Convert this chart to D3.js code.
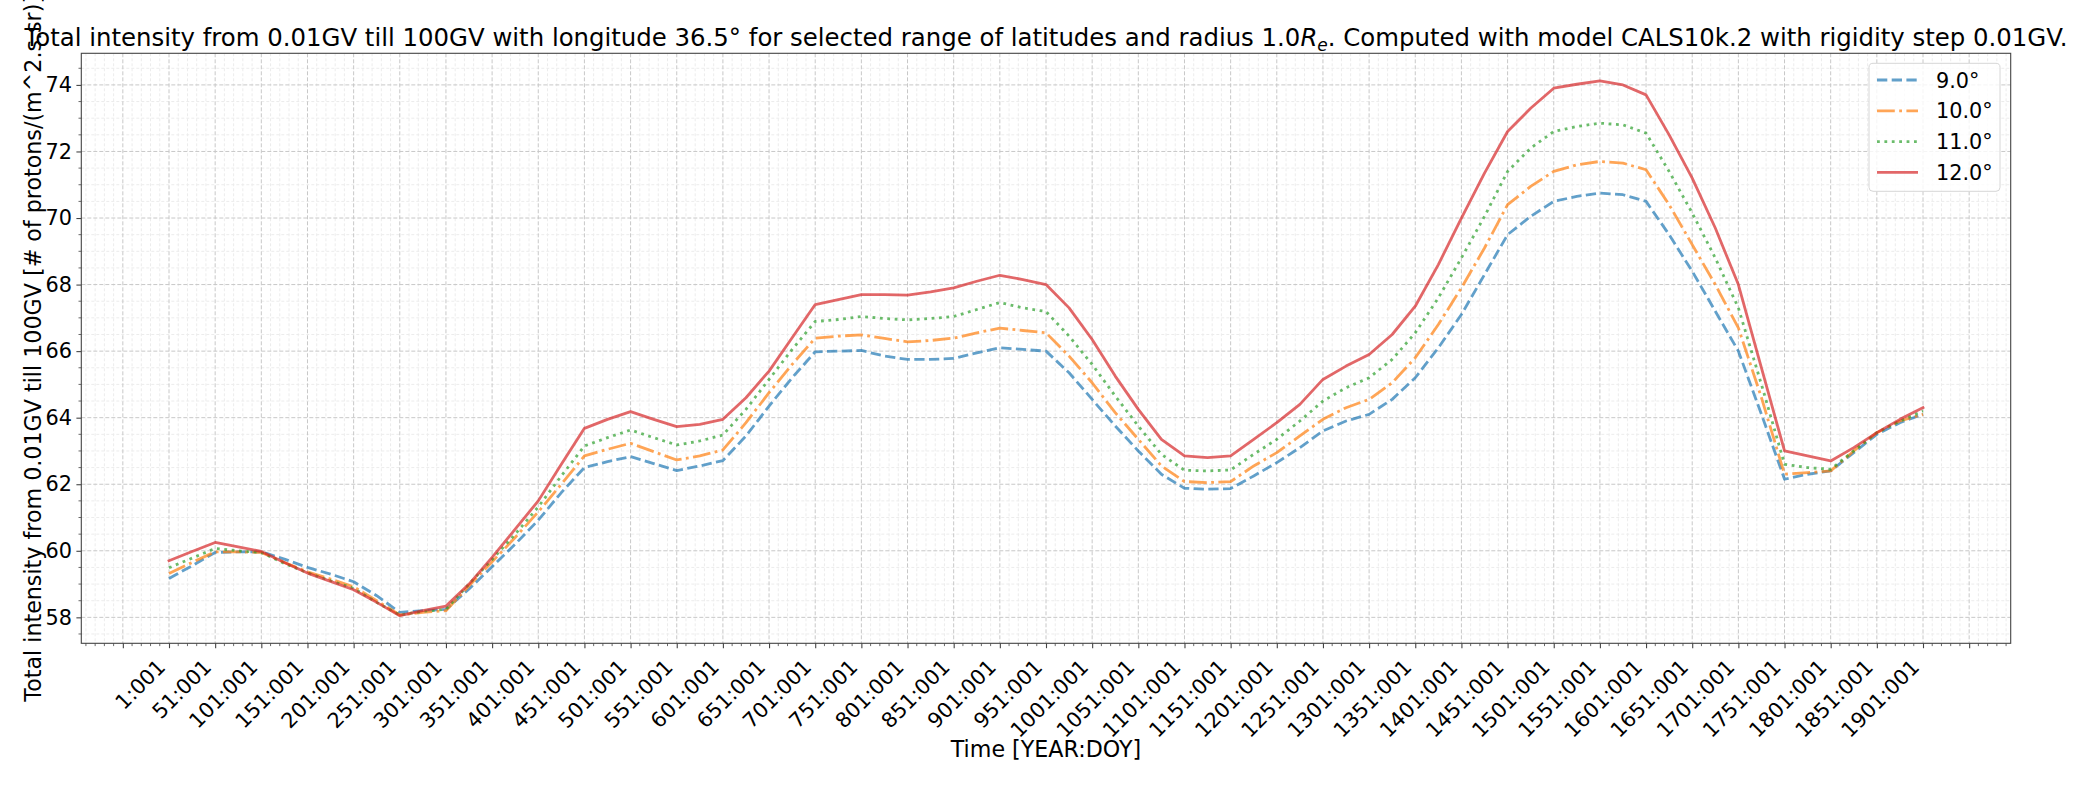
<!DOCTYPE html>
<html><head><meta charset="utf-8">
<script src="https://cdn.jsdelivr.net/npm/d3@7"></script>
<style>
html,body{margin:0;padding:0;background:#fff;}
svg{display:block;font-family:"DejaVu Sans",sans-serif;}
</style></head>
<body>
<svg id="chart" width="2089" height="785"></svg>
<script>
const years = [1,26,51,76,101,126,151,176,201,226,251,276,301,326,351,376,401,426,451,476,501,526,551,576,601,626,651,676,701,726,751,776,801,826,851,876,901,926,951,976,1001,1026,1051,1076,1101,1126,1151,1176,1201,1226,1251,1276,1301,1326,1351,1376,1401,1426,1451,1476,1501,1526,1551,1576,1601,1626,1651,1676,1701,1726,1751,1776,1801,1826,1851,1876,1901];

const lat9 = [59.17,59.55,59.95,59.97,59.97,59.75,59.50,59.30,59.07,58.65,58.15,58.20,58.24,58.85,59.52,60.20,60.92,61.75,62.50,62.68,62.83,62.62,62.41,62.55,62.71,63.45,64.35,65.20,65.98,66.00,66.02,65.85,65.75,65.75,65.78,65.95,66.10,66.05,66.00,65.35,64.55,63.75,63.00,62.30,61.88,61.85,61.87,62.25,62.65,63.10,63.60,63.90,64.10,64.55,65.20,66.10,67.10,68.30,69.50,70.05,70.50,70.65,70.75,70.70,70.50,69.50,68.40,67.20,66.00,64.10,62.15,62.30,62.40,62.95,63.50,63.85,64.10];

const lat10 = [59.32,59.65,59.97,59.97,59.95,59.65,59.37,59.15,58.92,58.50,58.07,58.15,58.20,58.95,59.67,60.40,61.17,62.00,62.85,63.05,63.23,62.98,62.73,62.85,63.03,63.85,64.75,65.60,66.39,66.45,66.49,66.38,66.28,66.32,66.39,66.55,66.69,66.62,66.55,65.85,65.05,64.15,63.35,62.55,62.08,62.05,62.08,62.55,62.95,63.45,63.95,64.30,64.55,65.05,65.80,66.80,67.90,69.10,70.40,70.95,71.40,71.60,71.70,71.65,71.45,70.40,69.20,68.00,66.70,64.60,62.30,62.35,62.40,63.00,63.55,63.90,64.10];

const lat11 = [59.49,59.78,60.07,60.00,59.95,59.62,59.34,59.10,58.87,58.45,58.07,58.18,58.24,59.00,59.74,60.50,61.32,62.25,63.15,63.40,63.63,63.40,63.18,63.30,63.48,64.25,65.15,66.05,66.89,66.95,67.04,66.98,66.94,66.98,67.04,67.25,67.46,67.30,67.19,66.45,65.60,64.65,63.75,62.90,62.42,62.40,62.43,62.90,63.35,63.90,64.50,64.90,65.20,65.75,66.55,67.60,68.80,70.05,71.40,72.10,72.60,72.75,72.85,72.80,72.55,71.40,70.15,68.80,67.30,65.00,62.60,62.50,62.45,63.00,63.55,63.90,64.20];

const lat12 = [59.70,59.98,60.25,60.12,59.98,59.65,59.33,59.08,58.83,58.45,58.05,58.20,58.34,59.00,59.80,60.65,61.50,62.60,63.68,63.95,64.18,63.95,63.73,63.80,63.95,64.60,65.40,66.40,67.40,67.55,67.70,67.70,67.68,67.78,67.90,68.10,68.28,68.15,68.00,67.30,66.35,65.25,64.25,63.35,62.85,62.80,62.85,63.35,63.85,64.40,65.15,65.55,65.90,66.50,67.35,68.60,70.00,71.35,72.60,73.30,73.90,74.02,74.12,74.00,73.70,72.50,71.20,69.70,68.00,65.50,63.00,62.85,62.70,63.10,63.55,63.95,64.30];

const seriesNames = ["9.0°","10.0°","11.0°","12.0°"];
const seriesColors = ["#1f77b4","#ff7f0e","#2ca02c","#d62728"];
const seriesDash = ["10.3,4.4","17.8,4.4,2.8,4.4","2.8,4.6",null];
const yTickValues = [58,60,62,64,66,68,70,72,74];
const xTickYears = d3.range(-49, 1952, 50);
const xTickLabel = v => (v >= 1 && v <= 1901) ? v + ":001" : "";

const titleText = "Total intensity from 0.01GV till 100GV with longitude 36.5° for selected range of latitudes and radius 1.0";
const titleTail = ". Computed with model CALS10k.2 with rigidity step 0.01GV.";
const yLabel = "Total intensity from 0.01GV till 100GV [# of protons/(m^2.s.sr)]";
const xLabel = "Time [YEAR:DOY]";

const L = 81.3, R = 2010.7, T = 53.3, B = 643.3;
const svg = d3.select("#chart");
const x = d3.scaleLinear().domain([-94, 1996]).range([L, R]);
const y = d3.scaleLinear().domain([57.22, 74.95]).range([B, T]);

// grids
const g = svg.append("g");
const xMinor = d3.range(-89, 1996, 10).filter(v => (v + 49) % 50 !== 0);
const yMinor = d3.range(57.5, 75, 0.5).filter(v => v % 2 !== 0);
g.selectAll(".xmin").data(xMinor).join("line")
  .attr("x1", d => x(d)).attr("x2", d => x(d)).attr("y1", T).attr("y2", B)
  .attr("stroke", "#ececec").attr("stroke-width", 1).attr("stroke-dasharray", "3,2");
g.selectAll(".ymin").data(yMinor).join("line")
  .attr("y1", d => y(d)).attr("y2", d => y(d)).attr("x1", L).attr("x2", R)
  .attr("stroke", "#ececec").attr("stroke-width", 1).attr("stroke-dasharray", "3,2");
g.selectAll(".xmaj").data(xTickYears).join("line")
  .attr("x1", d => x(d)).attr("x2", d => x(d)).attr("y1", T).attr("y2", B)
  .attr("stroke", "#c8c8c8").attr("stroke-width", 1).attr("stroke-dasharray", "4,2");
g.selectAll(".ymaj").data(yTickValues).join("line")
  .attr("y1", d => y(d)).attr("y2", d => y(d)).attr("x1", L).attr("x2", R)
  .attr("stroke", "#c8c8c8").attr("stroke-width", 1).attr("stroke-dasharray", "4,2");

// lines
const allSeries = [lat9, lat10, lat11, lat12];
const line = d3.line().x((d, i) => x(years[i])).y(d => y(d));
svg.append("clipPath").attr("id", "clip").append("rect")
  .attr("x", L).attr("y", T).attr("width", R - L).attr("height", B - T);
const lg = svg.append("g").attr("clip-path", "url(#clip)");
allSeries.forEach((s, k) => {
  lg.append("path").datum(s).attr("d", line)
    .attr("fill", "none").attr("stroke", seriesColors[k]).attr("stroke-opacity", 0.7)
    .attr("stroke-width", 2.8).attr("stroke-dasharray", seriesDash[k])
    .attr("stroke-linejoin", "round").attr("stroke-linecap", k === 3 ? "square" : "butt");
});

// axes frame
svg.append("rect").attr("x", L).attr("y", T).attr("width", R - L).attr("height", B - T)
  .attr("fill", "none").attr("stroke", "#444").attr("stroke-width", 1.1);

// x axis
const xa = d3.axisBottom(x).tickValues(xTickYears).tickFormat(xTickLabel).tickSize(4.9).tickPadding(0);
const xg = svg.append("g").attr("transform", `translate(0,${B})`).call(xa);
xg.select(".domain").remove();
xg.selectAll(".tick line").attr("stroke", "#444").attr("stroke-width", 1.1);
xg.selectAll(".tick text")
  .attr("font-size", 20.8).attr("fill", "#000").attr("font-family", "DejaVu Sans")
  .attr("text-anchor", "end").attr("dy", null).attr("y", null)
  .attr("transform", "translate(-3,25) rotate(-45)");
svg.append("g").selectAll("line").data(xMinor).join("line")
  .attr("x1", d => x(d)).attr("x2", d => x(d)).attr("y1", B).attr("y2", B + 2.8)
  .attr("stroke", "#444").attr("stroke-width", 0.8);

// y axis
const ya = d3.axisLeft(y).tickValues(yTickValues).tickFormat(d3.format("d")).tickSize(4.9).tickPadding(4.5);
const yg = svg.append("g").attr("transform", `translate(${L},0)`).call(ya);
yg.select(".domain").remove();
yg.selectAll(".tick line").attr("stroke", "#444").attr("stroke-width", 1.1);
yg.selectAll(".tick text").attr("font-size", 20.8).attr("fill", "#000").attr("font-family", "DejaVu Sans");
svg.append("g").selectAll("line").data(yMinor).join("line")
  .attr("y1", d => y(d)).attr("y2", d => y(d)).attr("x1", L).attr("x2", L - 2.8)
  .attr("stroke", "#444").attr("stroke-width", 0.8);

// labels
svg.append("text").attr("x", (L + R) / 2).attr("y", 757).attr("text-anchor", "middle")
  .attr("font-size", 22.2).text(xLabel);
svg.append("text").attr("transform", `translate(41,${(T + B) / 2}) rotate(-90)`)
  .attr("text-anchor", "middle").attr("font-size", 22.2).text(yLabel);
const title = svg.append("text").attr("x", (L + R) / 2).attr("y", 45.5)
  .attr("text-anchor", "middle").attr("font-size", 24.4);
title.append("tspan").text(titleText);
title.append("tspan").attr("font-style", "italic").text("R");
title.append("tspan").attr("font-style", "italic").attr("font-size", 17).attr("dy", 5).text("e");
title.append("tspan").attr("dy", -5).text(titleTail);

// legend
const lgX = 1869, lgY = 63.3;
const leg = svg.append("g");
leg.append("rect").attr("x", lgX).attr("y", lgY).attr("width", 131).attr("height", 128)
  .attr("rx", 4).attr("fill", "#fff").attr("fill-opacity", 0.8)
  .attr("stroke", "#d6d6d6").attr("stroke-width", 1);
seriesNames.forEach((name, k) => {
  const cy = 80 + k * 30.8;
  leg.append("line").attr("x1", 1877).attr("x2", 1918).attr("y1", cy).attr("y2", cy)
    .attr("stroke", seriesColors[k]).attr("stroke-opacity", 0.7).attr("stroke-width", 2.8)
    .attr("stroke-dasharray", seriesDash[k]);
  leg.append("text").attr("x", 1936).attr("y", cy + 7.5).attr("font-size", 20.8).text(name);
});
</script>
</body></html>
